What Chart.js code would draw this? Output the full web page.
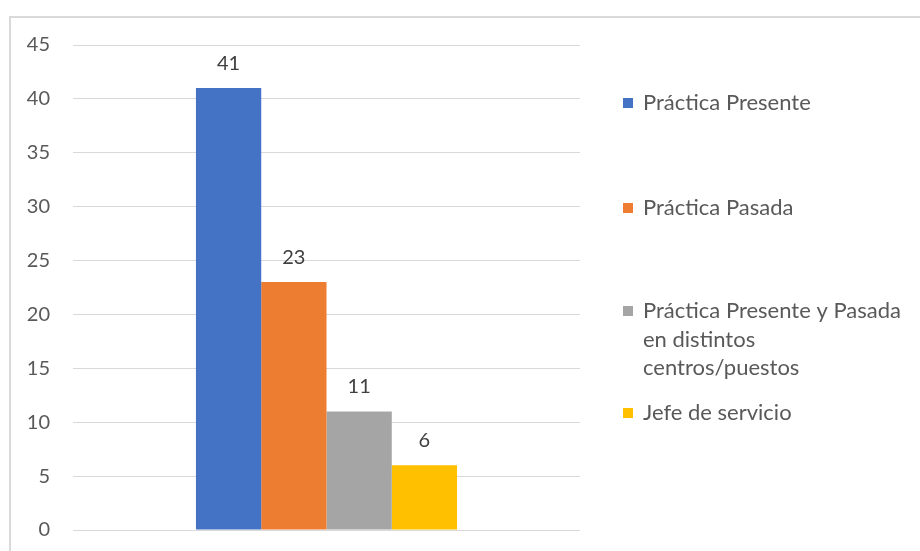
<!DOCTYPE html>
<html>
<head>
<meta charset="utf-8">
<script src="https://cdn.jsdelivr.net/npm/chart.js@4/dist/chart.umd.min.js"></script>
<style>
  html, body { margin: 0; padding: 0; background: #ffffff; }
  #wrap { position: relative; width: 920px; height: 551px; }
</style>
</head>
<body>
<div id="wrap"><canvas id="c" width="920" height="551"></canvas></div>
<script>
// Chart data
const categories = [''];
const seriesLabels = [
  'Práctica Presente',
  'Práctica Pasada',
  ['Práctica Presente y Pasada', 'en distintos', 'centros/puestos'],
  'Jefe de servicio'
];
const seriesValues = [[41], [23], [11], [6]];
const seriesColors = ['#4472C4', '#ED7D31', '#A5A5A5', '#FFC000'];
const yTicks = { min: 0, max: 45, step: 5 };

const FONT = 'Lato, "Open Sans", sans-serif';

// Outer frame of the chart object
const framePlugin = {
  id: 'frame',
  beforeDraw(chart) {
    const ctx = chart.ctx;
    ctx.save();
    ctx.fillStyle = '#ffffff';
    ctx.fillRect(0, 0, chart.width, chart.height);
    ctx.strokeStyle = '#d9d9d9';
    ctx.lineWidth = 2;
    ctx.strokeRect(10, 17, chart.width + 20, chart.height + 20);
    ctx.restore();
  }
};

// Value labels above each bar
const valueLabelPlugin = {
  id: 'valueLabels',
  afterDatasetsDraw(chart) {
    const ctx = chart.ctx;
    ctx.save();
    ctx.font = '20px ' + FONT;
    ctx.fillStyle = '#404040';
    ctx.textAlign = 'center';
    ctx.textBaseline = 'middle';
    chart.data.datasets.forEach((ds, i) => {
      const meta = chart.getDatasetMeta(i);
      meta.data.forEach((bar, j) => {
        ctx.fillText(String(ds.data[j]), bar.x, bar.y - 25);
      });
    });
    ctx.restore();
  }
};

// Legend on the right side
const sideLegendPlugin = {
  id: 'sideLegend',
  afterDraw(chart, args, opts) {
    const ctx = chart.ctx;
    ctx.save();
    ctx.font = '22px ' + FONT;
    ctx.textBaseline = 'middle';
    ctx.textAlign = 'left';
    chart.data.datasets.forEach((ds, i) => {
      const y = opts.rows[i];
      ctx.fillStyle = ds.backgroundColor;
      ctx.fillRect(opts.boxX, y - 5, 10, 10);
      ctx.fillStyle = '#595959';
      const lines = Array.isArray(ds.label) ? ds.label : [ds.label];
      lines.forEach((line, k) => {
        ctx.fillText(line, opts.textX, y + k * opts.lineHeight);
      });
    });
    ctx.restore();
  }
};

new Chart(document.getElementById('c'), {
  type: 'bar',
  data: {
    labels: categories,
    datasets: seriesLabels.map((label, i) => ({
      label: label,
      data: seriesValues[i],
      backgroundColor: seriesColors[i],
      borderWidth: 0,
      categoryPercentage: 0.515,
      barPercentage: 1.0
    }))
  },
  options: {
    responsive: false,
    animation: false,
    devicePixelRatio: 1,
    layout: { padding: { top: 45, right: 340, bottom: 21, left: 0 } },
    plugins: {
      legend: { display: false },
      tooltip: { enabled: false },
      sideLegend: { boxX: 623, textX: 643, lineHeight: 28.5, rows: [103, 208, 311, 413] }
    },
    scales: {
      x: { display: false },
      y: {
        min: yTicks.min,
        max: yTicks.max,
        ticks: {
          stepSize: yTicks.step,
          color: '#595959',
          font: { family: FONT, size: 20 },
          padding: 23
        },
        grid: { color: '#d9d9d9', lineWidth: 1, drawTicks: false },
        border: { display: false },
        afterFit(scale) {
          scale.width = 73;
          scale.paddingTop = 0;
          scale.paddingBottom = 0;
        }
      }
    }
  },
  plugins: [framePlugin, valueLabelPlugin, sideLegendPlugin]
});
</script>
</body>
</html>
